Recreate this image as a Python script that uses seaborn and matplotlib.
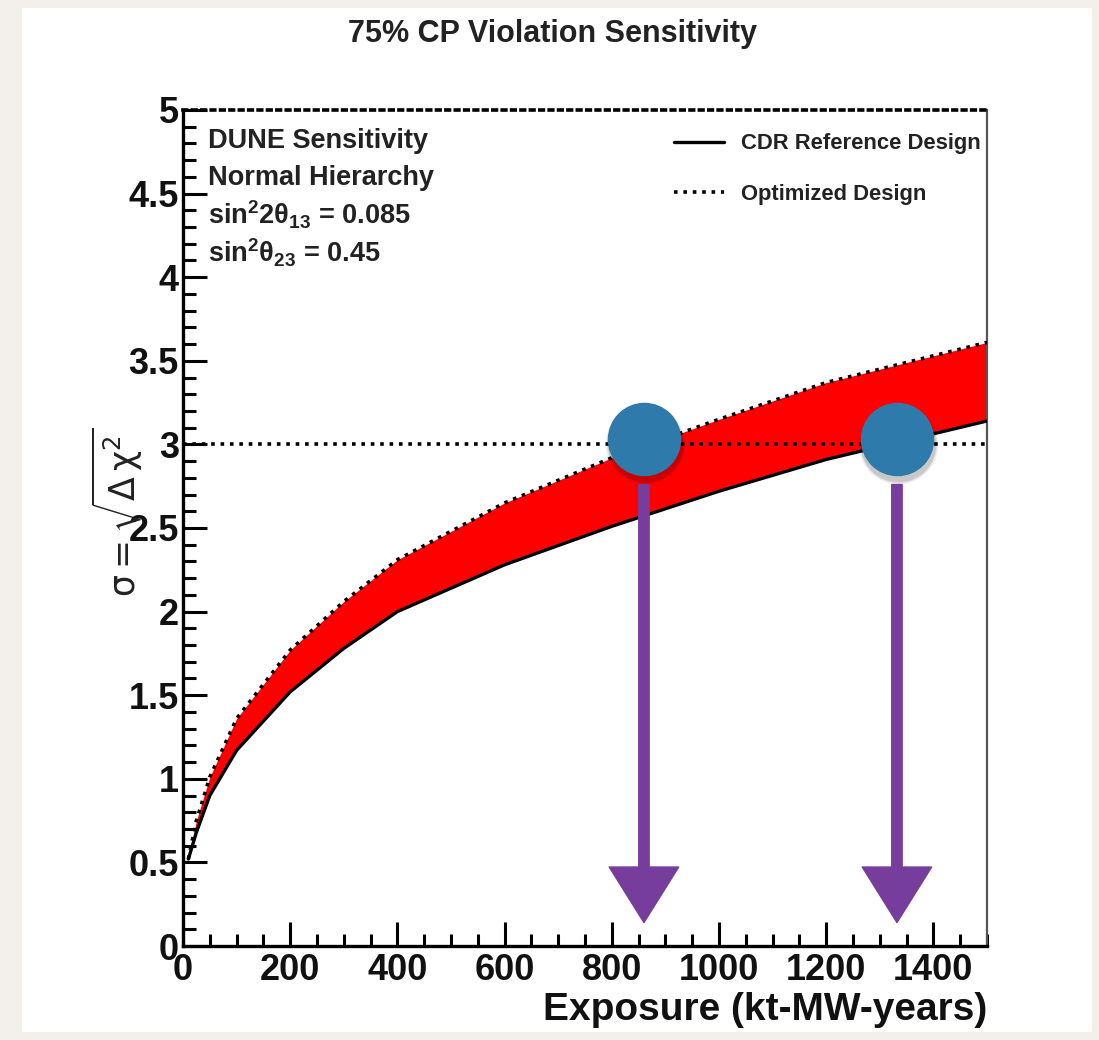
import numpy as np
import pandas as pd
import matplotlib
matplotlib.use("Agg")
import matplotlib.pyplot as plt
import seaborn as sns
from matplotlib.ticker import MultipleLocator, FuncFormatter
from matplotlib.patches import Rectangle

# Sensitivity curves: exposure (kt-MW-years) vs sigma = sqrt(delta chi^2)
exposure = [10, 25, 50, 100, 200, 300, 400, 600, 800, 1000, 1200, 1500]
cdr_sigma = [0.52, 0.68, 0.90, 1.17, 1.52, 1.78, 2.00, 2.28, 2.51, 2.72, 2.91, 3.14]
opt_sigma = [0.52, 0.75, 1.01, 1.36, 1.77, 2.06, 2.31, 2.65, 2.92, 3.15, 3.37, 3.61]

series_labels = ["CDR Reference Design", "Optimized Design"]
info_lines = ["DUNE Sensitivity", "Normal Hierarchy",
              r"$\mathregular{sin^{2}2\theta_{13}}$ = 0.085",
              r"$\mathregular{sin^{2}\theta_{23}}$ = 0.45"]
threshold_sigma = 3.0

# Exposures where each design reaches 3 sigma
marker_exposure = [860, 1332]
marker_sigma = [3.03, 3.03]
arrow_tip_sigma = 0.14
arrow_tail_sigma = 2.76

sns.set_theme(style="white")
plt.rcParams["font.family"] = ["Liberation Sans", "DejaVu Sans"]
plt.rcParams["mathtext.fontset"] = "custom"
for key in ("rm", "it", "bf", "sf"):
    plt.rcParams[f"mathtext.{key}"] = "Liberation Sans:bold"

fig = plt.figure(figsize=(10.99, 10.4), dpi=100, facecolor="#f3f0eb")
fig.patches.append(Rectangle((22 / 1099, 1 - 1032 / 1040), (1092 - 22) / 1099,
                             (1032 - 8) / 1040, transform=fig.transFigure,
                             facecolor="white", edgecolor="none", zorder=-10))
ax = fig.add_axes([183 / 1099, 1 - 946 / 1040, (987 - 183) / 1099, (946 - 110) / 1040])
ax.set_zorder(1)
ax.set_facecolor("white")

df = pd.DataFrame({"exposure": exposure, "cdr": cdr_sigma, "opt": opt_sigma})

ax.fill_between(df["exposure"], df["cdr"], df["opt"], color="#ff0000", lw=0, zorder=2)
sns.lineplot(data=df, x="exposure", y="cdr", ax=ax, color="black", lw=2.4,
             label=series_labels[0], zorder=3)
sns.lineplot(data=df, x="exposure", y="opt", ax=ax, color="black", lw=2.6,
             linestyle=(0, (1.0, 1.6)), label=series_labels[1], zorder=3)
ax.axhline(threshold_sigma, color="black", lw=2.6, linestyle=(0, (1.0, 1.6)), zorder=3)

ax.set_xlim(0, 1500)
ax.set_ylim(0, 5)

# Axis frame and ticks
for side in ("left", "bottom"):
    ax.spines[side].set_linewidth(2.4)
    ax.spines[side].set_color("black")
ax.spines["right"].set_linewidth(1.6)
ax.spines["right"].set_color("#555555")
ax.spines["top"].set_linewidth(2.6)
ax.spines["top"].set_color("black")
ax.spines["top"].set_linestyle((0, (1.0, 1.6)))

ax.xaxis.set_major_locator(MultipleLocator(200))
ax.xaxis.set_minor_locator(MultipleLocator(50))
ax.yaxis.set_major_locator(MultipleLocator(0.5))
ax.yaxis.set_minor_locator(MultipleLocator(0.1))
ax.yaxis.set_major_formatter(FuncFormatter(lambda v, p: f"{v:g}"))
ax.tick_params(which="both", direction="in", bottom=True, left=True,
               top=False, right=False, width=2.2, color="black")
ax.tick_params(which="major", length=17, labelsize=26, pad=3)
ax.tick_params(which="minor", length=9)
ax.tick_params(axis="x", which="major", pad=5)
for lab in ax.get_xticklabels() + ax.get_yticklabels():
    lab.set_fontweight("bold")
    lab.set_color("#111111")

ax.set_xlabel("")
ax.set_ylabel("")
fig.text(987 / 1099, 1 - 1010 / 1040, "Exposure (kt-MW-years)", ha="right",
         va="center", fontsize=28, fontweight="bold", color="#111111")
fig.text(117 / 1099, 1 - 512 / 1040, r"$\mathrm{\sigma = \sqrt{\Delta\,\chi^{2}}}$",
         rotation=90, ha="center", va="center", fontsize=25,
         math_fontfamily="dejavusans", color="#222222")
fig.text(553 / 1099, 1 - 34 / 1040, "75% CP Violation Sensitivity", ha="center",
         va="center", fontsize=22, fontweight="bold", color="#222222")

# Parameter block
for i, line in enumerate(info_lines):
    ax.text(0.031, 0.963 - i * 0.0445, line, transform=ax.transAxes, ha="left",
            va="center", fontsize=19.5, fontweight="bold", color="#222222")

leg = ax.legend(loc="upper right", bbox_to_anchor=(1.008, 0.988), frameon=False,
                fontsize=15.8, handlelength=2.3, handletextpad=0.75,
                labelspacing=1.35, borderaxespad=0.2)
for t in leg.get_texts():
    t.set_fontweight("bold")
    t.set_color("#222222")

# Highlight markers and arrows
purple = "#763d9c"
for xe, ye in zip(marker_exposure, marker_sigma):
    ax.annotate("", xy=(xe, arrow_tip_sigma), xytext=(xe, arrow_tail_sigma),
                arrowprops=dict(arrowstyle="simple,head_length=0.8,head_width=1.0,tail_width=0.15",
                                color=purple, mutation_scale=50, shrinkA=0, shrinkB=0),
                zorder=5)
# soft drop shadow under each marker
for grow, alpha in [(3300, 0.05), (3100, 0.08), (2950, 0.10)]:
    ax.scatter([x + 2 for x in marker_exposure], [y - 0.03 for y in marker_sigma],
               s=grow, color="black", alpha=alpha, linewidths=0, zorder=5, clip_on=False)
ax.scatter(marker_exposure, marker_sigma, s=2800, color="#2e7aaa",
           linewidths=0, zorder=6, clip_on=False)

fig.savefig("out.png", dpi=100, facecolor=fig.get_facecolor())
